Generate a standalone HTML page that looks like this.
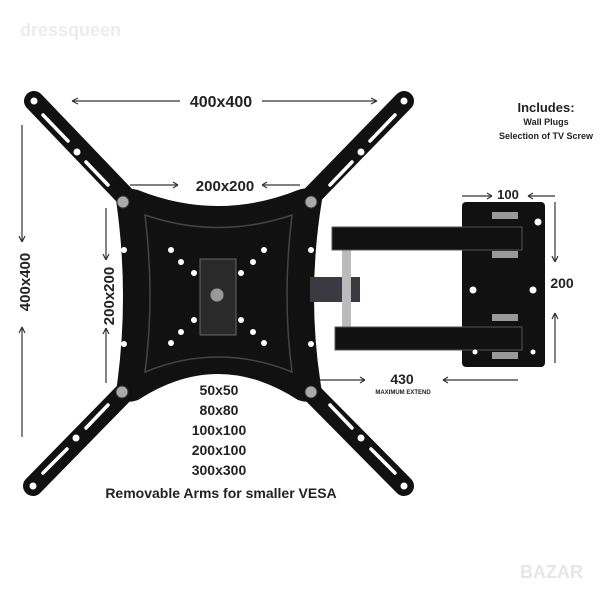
<!DOCTYPE html>
<html><head><meta charset="utf-8"><style>
body{margin:0;background:#fff}
svg{display:block}
text{font-family:"Liberation Sans",sans-serif;font-weight:bold;fill:#222}
</style></head><body>
<svg width="600" height="600" viewBox="0 0 600 600" xmlns="http://www.w3.org/2000/svg">
<rect width="600" height="600" fill="#fff"/>
<text x="20" y="36" font-size="18" style="fill:#ececec">dressqueen</text>
<text x="520" y="578" font-size="18" style="fill:#e6e6e6">BAZAR</text>
<g stroke="#111" stroke-width="20" stroke-linecap="round">
<line x1="34" y1="101" x2="215" y2="290"/>
<line x1="404" y1="101" x2="220" y2="290"/>
<line x1="33" y1="486" x2="215" y2="300"/>
<line x1="404" y1="486" x2="220" y2="300"/>
</g>
<g fill="#fff">
<circle cx="34" cy="101" r="3.5"/><circle cx="404" cy="101" r="3.5"/><circle cx="33" cy="486" r="3.5"/><circle cx="404" cy="486" r="3.5"/>
<circle cx="77" cy="152" r="3.5"/><circle cx="361" cy="152" r="3.5"/><circle cx="76" cy="438" r="3.5"/><circle cx="361" cy="438" r="3.5"/>
</g>
<g stroke="#fff" stroke-width="3.5" stroke-linecap="round">
<line x1="43" y1="115" x2="68" y2="141"/><line x1="86" y1="162" x2="108" y2="185"/>
<line x1="395" y1="115" x2="370" y2="141"/><line x1="352" y1="162" x2="330" y2="185"/>
<line x1="43" y1="473" x2="67" y2="449"/><line x1="86" y1="428" x2="108" y2="405"/>
<line x1="395" y1="473" x2="371" y2="449"/><line x1="352" y1="428" x2="330" y2="405"/>
</g>
<path d="M116,200 Q120,185 138,190 Q218,222 298,190 Q316,184 322,200 Q306,297 322,392 Q316,406 298,400 Q218,348 138,400 Q120,406 116,392 Q130,297 116,200Z" fill="#111"/>
<path d="M145,215 Q218,240 292,215 Q282,297 292,372 Q218,342 145,372 Q155,297 145,215Z" fill="none" stroke="#444" stroke-width="1.5"/>
<g fill="#aaa" stroke="#333"><circle cx="123" cy="202" r="6"/><circle cx="311" cy="202" r="6"/><circle cx="122" cy="392" r="6"/><circle cx="311" cy="392" r="6"/></g>
<g fill="#fff">
<circle cx="124" cy="250" r="3"/><circle cx="311" cy="250" r="3"/><circle cx="124" cy="344" r="3"/><circle cx="311" cy="344" r="3"/>
<circle cx="171" cy="250" r="3"/><circle cx="264" cy="250" r="3"/><circle cx="181" cy="262" r="3"/><circle cx="253" cy="262" r="3"/><circle cx="194" cy="273" r="3"/><circle cx="241" cy="273" r="3"/>
<circle cx="171" cy="343" r="3"/><circle cx="264" cy="343" r="3"/><circle cx="181" cy="332" r="3"/><circle cx="253" cy="332" r="3"/><circle cx="194" cy="320" r="3"/><circle cx="241" cy="320" r="3"/>
</g>
<rect x="200" y="259" width="36" height="76" fill="#2a2a2a" stroke="#666"/>
<circle cx="217" cy="295" r="7" fill="#999" stroke="#333"/>
<rect x="310" y="277" width="50" height="25" fill="#3a3a40"/>
<rect x="342" y="250" width="9" height="78" fill="#bbb"/>
<rect x="462" y="202" width="83" height="165" rx="4" fill="#111"/>
<rect x="332" y="227" width="190" height="23" fill="#111" stroke="#555"/>
<rect x="335" y="327" width="187" height="23" fill="#111" stroke="#555"/>
<g fill="#999"><rect x="492" y="212" width="26" height="7"/><rect x="492" y="251" width="26" height="7"/><rect x="492" y="314" width="26" height="7"/><rect x="492" y="352" width="26" height="7"/></g>
<g fill="#fff"><circle cx="538" cy="222" r="3.5"/><circle cx="473" cy="290" r="3.5"/><circle cx="533" cy="290" r="3.5"/><circle cx="475" cy="352" r="2.5"/><circle cx="533" cy="352" r="2.5"/></g>
<g stroke="#333" stroke-width="1.2" fill="none">
<path d="M72,101H180M262,101H377M72,101l6,-3M72,101l6,3M377,101l-6,-3M377,101l-6,3"/>
<path d="M130,185H178M178,185l-5,-3M178,185l-5,3M300,185H262M262,185l5,-3M262,185l5,3"/>
<path d="M22,125V242M22,242l-3,-6M22,242l3,-6M22,327V437M22,327l-3,6M22,327l3,6"/>
<path d="M106,208V260M106,260l-3,-6M106,260l3,-6M106,328V383M106,328l-3,6M106,328l3,6"/>
<path d="M462,196H492M492,196l-5,-3M492,196l-5,3M555,196H528M528,196l5,-3M528,196l5,3"/>
<path d="M555,202V262M555,262l-3,-6M555,262l3,-6M555,313V363M555,313l-3,6M555,313l3,6"/>
<path d="M320,380H365M365,380l-5,-3M365,380l-5,3M518,380H443M443,380l5,-3M443,380l5,3"/>
</g>
<g text-anchor="middle">
<text x="221" y="107" font-size="16">400x400</text>
<text x="225" y="191" font-size="15">200x200</text>
<text x="546" y="112" font-size="13">Includes:</text>
<text x="546" y="125" font-size="9">Wall Plugs</text>
<text x="546" y="139" font-size="9">Selection of TV Screw</text>
<text x="508" y="199" font-size="13">100</text>
<text x="562" y="288" font-size="14">200</text>
<text x="402" y="384" font-size="14">430</text>
<text x="403" y="394" font-size="6">MAXIMUM EXTEND</text>
<text transform="translate(30,282) rotate(-90)" font-size="15">400x400</text>
<text transform="translate(114,296) rotate(-90)" font-size="15">200x200</text>
<text x="219" y="395" font-size="14">50x50</text>
<text x="219" y="415" font-size="14">80x80</text>
<text x="219" y="435" font-size="14">100x100</text>
<text x="219" y="455" font-size="14">200x100</text>
<text x="219" y="475" font-size="14">300x300</text>
<text x="221" y="498" font-size="14">Removable Arms for smaller VESA</text>
</g>
</svg>
</body></html>
